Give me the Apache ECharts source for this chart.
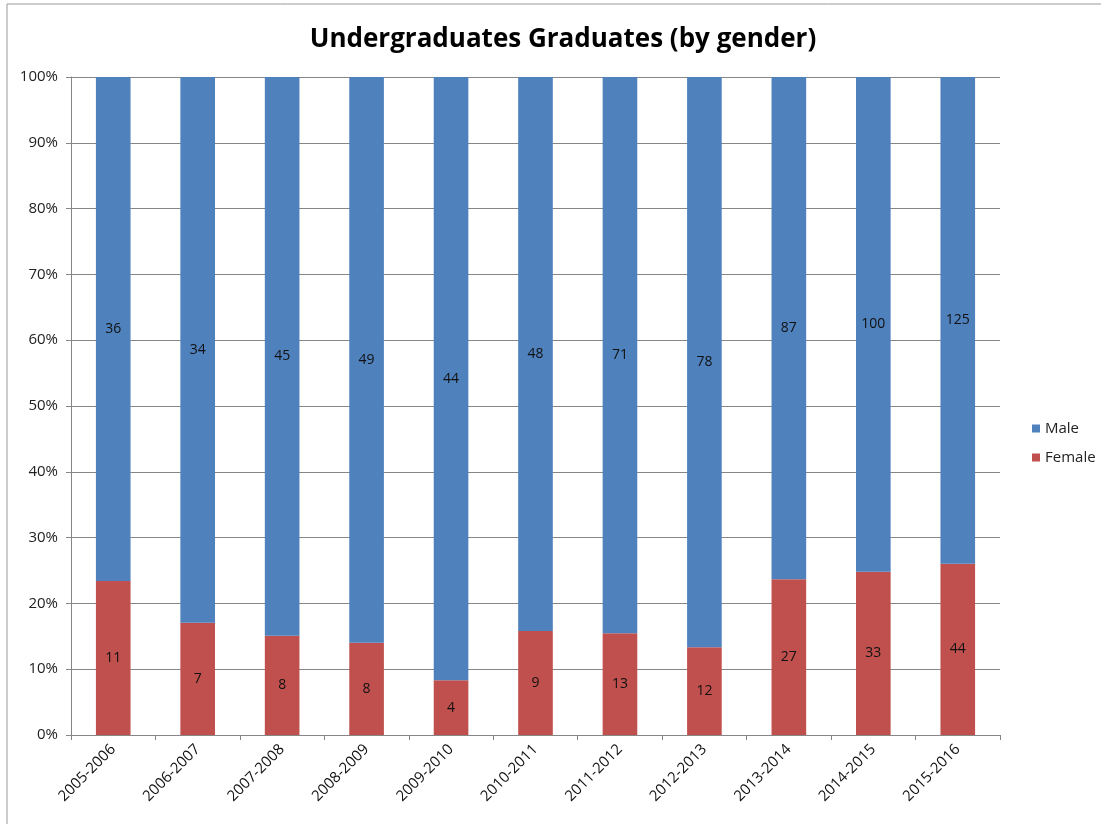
<!DOCTYPE html>
<html>
<head>
<meta charset="utf-8">
<script src="https://cdn.jsdelivr.net/npm/echarts@6/dist/echarts.min.js"></script>
<style>html,body{margin:0;padding:0;background:#fff}#c{width:1101px;height:824px}</style>
</head>
<body>
<div id="c"></div>
<script>
const categories = ["2005-2006","2006-2007","2007-2008","2008-2009","2009-2010","2010-2011","2011-2012","2012-2013","2013-2014","2014-2015","2015-2016"];
const maleValues = [36,34,45,49,44,48,71,78,87,100,125];
const femaleValues = [11,7,8,8,4,9,13,12,27,33,44];
const yTicks = [0,10,20,30,40,50,60,70,80,90,100];

const totals = maleValues.map((m,i)=>m+femaleValues[i]);
const femalePct = femaleValues.map((f,i)=>({value: f/totals[i]*100, raw: f}));
const malePct = maleValues.map((m,i)=>({value: m/totals[i]*100, raw: m}));

const font = "'Open Sans', 'Noto Sans', sans-serif";
const chart = echarts.init(document.getElementById('c'));
chart.setOption({
  animation: false,
  backgroundColor: '#fff',
  title: {
    text: 'Undergraduates Graduates (by gender)',
    left: 558, top: 22, textAlign: 'center',
    textStyle: {fontFamily: font, fontSize: 26, fontWeight: 'bold', color: '#000'}
  },
  legend: {
    orient: 'vertical', left: 1027, top: 416,
    itemWidth: 8, itemHeight: 8, itemGap: 14, icon: 'rect',
    textStyle: {fontFamily: font, fontSize: 15, color: '#222'},
    data: ['Male','Female']
  },
  grid: {left: 71, right: 101, top: 77, bottom: 89, containLabel: false},
  xAxis: {
    type: 'category', data: categories,
    axisLine: {lineStyle: {color: '#868686'}},
    axisTick: {show: true, length: 5, alignWithLabel: false, lineStyle: {color: '#868686'}},
    axisLabel: {rotate: 45, margin: 12, interval: 0, fontFamily: font, fontSize: 15, color: '#111'}
  },
  yAxis: {
    type: 'value', min: 0, max: 100, interval: 10,
    axisLine: {show: true, lineStyle: {color: '#868686'}},
    axisTick: {show: true, length: 5, inside: false, lineStyle: {color: '#868686'}},
    axisLabel: {margin: 13, fontFamily: font, fontSize: 15, color: '#222',
      formatter: v => yTicks.includes(v) ? v + '%' : ''},
    splitLine: {lineStyle: {color: '#868686', width: 1}}
  },
  graphic: [
    {type: 'line', shape: {x1: 7, y1: 4, x2: 1101, y2: 4}, style: {stroke: '#999', lineWidth: 1}},
    {type: 'line', shape: {x1: 7, y1: 4, x2: 7, y2: 824}, style: {stroke: '#999', lineWidth: 1}}
  ],
  series: [
    {
      name: 'Female', type: 'bar', stack: 'a', data: femalePct, barWidth: '41%',
      itemStyle: {color: '#C0504D'},
      label: {show: true, position: 'inside', formatter: p => p.data.raw,
        fontFamily: font, fontSize: 14, color: '#111'}
    },
    {
      name: 'Male', type: 'bar', stack: 'a', data: malePct, barWidth: '41%',
      itemStyle: {color: '#4F81BD'},
      label: {show: true, position: 'inside', formatter: p => p.data.raw,
        fontFamily: font, fontSize: 14, color: '#111'}
    }
  ]
});
</script>
</body>
</html>
